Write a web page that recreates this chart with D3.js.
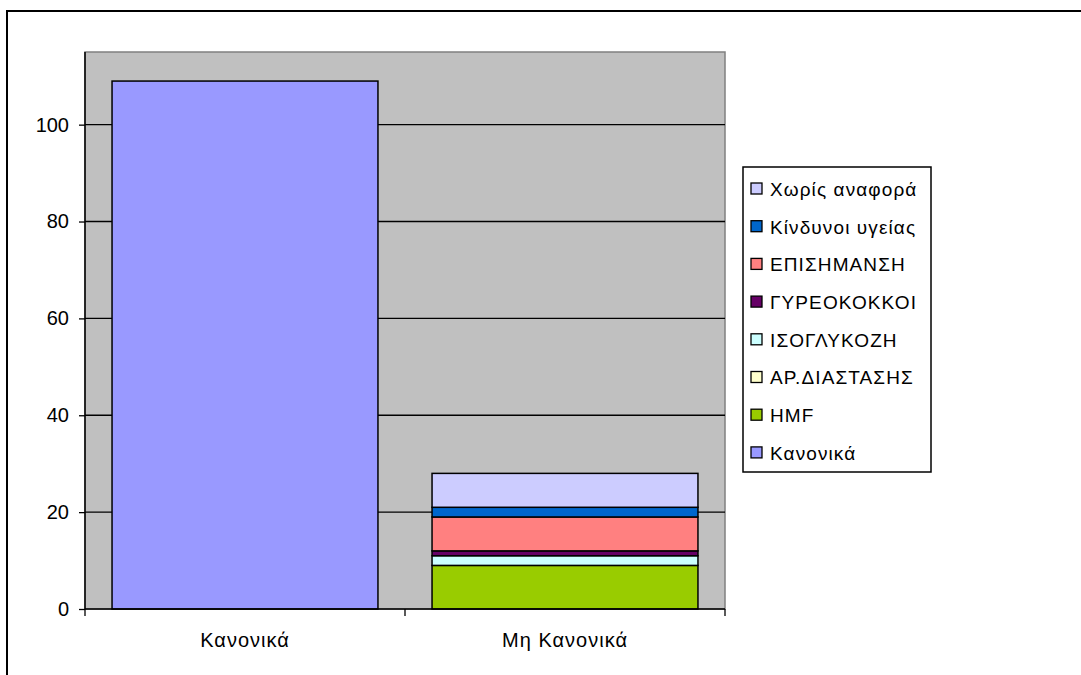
<!DOCTYPE html>
<html>
<head>
<meta charset="utf-8">
<script src="https://cdn.jsdelivr.net/npm/d3@7/dist/d3.min.js"></script>
<style>
  html, body { margin: 0; padding: 0; background: #ffffff; }
  svg { display: block; }
  text { font-family: "Liberation Sans", Arial, sans-serif; fill: #000; }
</style>
</head>
<body>
<svg id="chart" width="1081" height="675"></svg>
<script>
// ---- data ----
const categories = ["Κανονικά", "Μη Κανονικά"];
const seriesNames = ["Κανονικά", "HMF", "ΑΡ.ΔΙΑΣΤΑΣΗΣ", "ΙΣΟΓΛΥΚΟΖΗ", "ΓΥΡΕΟΚΟΚΚΟΙ", "ΕΠΙΣΗΜΑΝΣΗ", "Κίνδυνοι υγείας", "Χωρίς αναφορά"];
const valKanonika   = [109, 0];
const valHMF        = [0, 9];
const valArDiast    = [0, 0];
const valIsoglyk    = [0, 2];
const valGyreo      = [0, 1];
const valEpisim     = [0, 7];
const valKindynoi   = [0, 2];
const valXoris      = [0, 7];
const seriesColors = ["#9999FF", "#99CC00", "#FFFFCC", "#CCFFFF", "#660066", "#FF8080", "#0066CC", "#CCCCFF"];
const yTicks = [0, 20, 40, 60, 80, 100];
const yMax = 115;

const seriesValues = [valKanonika, valHMF, valArDiast, valIsoglyk, valGyreo, valEpisim, valKindynoi, valXoris];

// ---- layout ----
const svg = d3.select("#chart");
const plot = { left: 85, right: 725, top: 52, bottom: 609 };

// outer chart border (extends past the window on right/bottom)
svg.append("rect")
  .attr("x", 7).attr("y", 11).attr("width", 1200).attr("height", 800)
  .attr("fill", "#fff").attr("stroke", "#000").attr("stroke-width", 2);

const x = d3.scaleBand().domain(categories)
  .range([plot.left, plot.right]).paddingInner(0.169).paddingOuter(0.0845);
const y = d3.scaleLinear().domain([0, yMax]).range([plot.bottom, plot.top]);

// plot area background
svg.append("rect")
  .attr("x", plot.left).attr("y", plot.top)
  .attr("width", plot.right - plot.left).attr("height", plot.bottom - plot.top)
  .attr("fill", "#C0C0C0").attr("stroke", "#808080").attr("stroke-width", 1.5);

// gridlines
svg.append("g").selectAll("line").data(yTicks.filter(d => d > 0)).join("line")
  .attr("x1", plot.left).attr("x2", plot.right)
  .attr("y1", d => y(d)).attr("y2", d => y(d))
  .attr("stroke", "#000").attr("stroke-width", 1.3);

// stacked data
const rows = categories.map((c, i) => {
  const o = { cat: c };
  seriesNames.forEach((s, j) => o[s] = seriesValues[j][i]);
  return o;
});
const stacked = d3.stack().keys(seriesNames)(rows);

const barsG = svg.append("g");
stacked.forEach((layer, j) => {
  barsG.append("g").selectAll("rect")
    .data(layer.filter(d => d[1] - d[0] > 0)).join("rect")
    .attr("x", d => x(d.data.cat))
    .attr("width", x.bandwidth())
    .attr("y", d => y(d[1]))
    .attr("height", d => y(d[0]) - y(d[1]))
    .attr("fill", seriesColors[j])
    .attr("stroke", "#000").attr("stroke-width", 1.5);
});

// y axis
const yAxis = d3.axisLeft(y).tickValues(yTicks).tickSize(6).tickPadding(10).tickFormat(d3.format("d"));
const gy = svg.append("g").attr("transform", `translate(${plot.left},0)`).call(yAxis);
gy.select(".domain").attr("stroke", "#000").attr("stroke-width", 1.5).attr("d", `M0,${plot.top}V${plot.bottom}`);
gy.selectAll(".tick line").attr("stroke", "#000").attr("stroke-width", 1.3);
gy.selectAll(".tick text").style("font-size", "20px").style("font-family", "Liberation Sans, Arial, sans-serif").attr("fill", "#000");

// x axis
const xAxis = d3.axisBottom(x).tickSize(0).tickPadding(24);
const gx = svg.append("g").attr("transform", `translate(0,${plot.bottom})`).call(xAxis);
gx.select(".domain").attr("stroke", "#000").attr("stroke-width", 1.5).attr("d", `M${plot.left},0H${plot.right}`);
gx.selectAll(".tick text").style("font-size", "20px").style("letter-spacing", "1px")
  .style("font-family", "Liberation Sans, Arial, sans-serif").attr("fill", "#000");
// category boundary ticks
const bounds = [plot.left, ...categories.slice(1).map(c => x(c) - x.step() * x.paddingInner() / 2), plot.right];
gx.append("g").selectAll("line").data(bounds).join("line")
  .attr("x1", d => d).attr("x2", d => d).attr("y1", 0).attr("y2", 7)
  .attr("stroke", "#000").attr("stroke-width", 1.3);

// legend
const legend = { x: 743, y: 167, w: 188, h: 305 };
svg.append("rect").attr("x", legend.x).attr("y", legend.y)
  .attr("width", legend.w).attr("height", legend.h)
  .attr("fill", "#fff").attr("stroke", "#000").attr("stroke-width", 1.5);
const legendOrder = seriesNames.map((s, j) => j).reverse();
const rowH = 37.7;
const lg = svg.append("g").selectAll("g").data(legendOrder).join("g")
  .attr("transform", (d, i) => `translate(${legend.x + 8},${legend.y + 22 + i * rowH})`);
lg.append("rect").attr("x", 0).attr("y", -6).attr("width", 11).attr("height", 11)
  .attr("fill", d => seriesColors[d]).attr("stroke", "#000").attr("stroke-width", 1.3);
lg.append("text").attr("x", 19).attr("y", 0).attr("dy", "0.36em")
  .style("font-size", "19px").style("letter-spacing", "1.1px")
  .text(d => seriesNames[d]);
</script>
</body>
</html>
